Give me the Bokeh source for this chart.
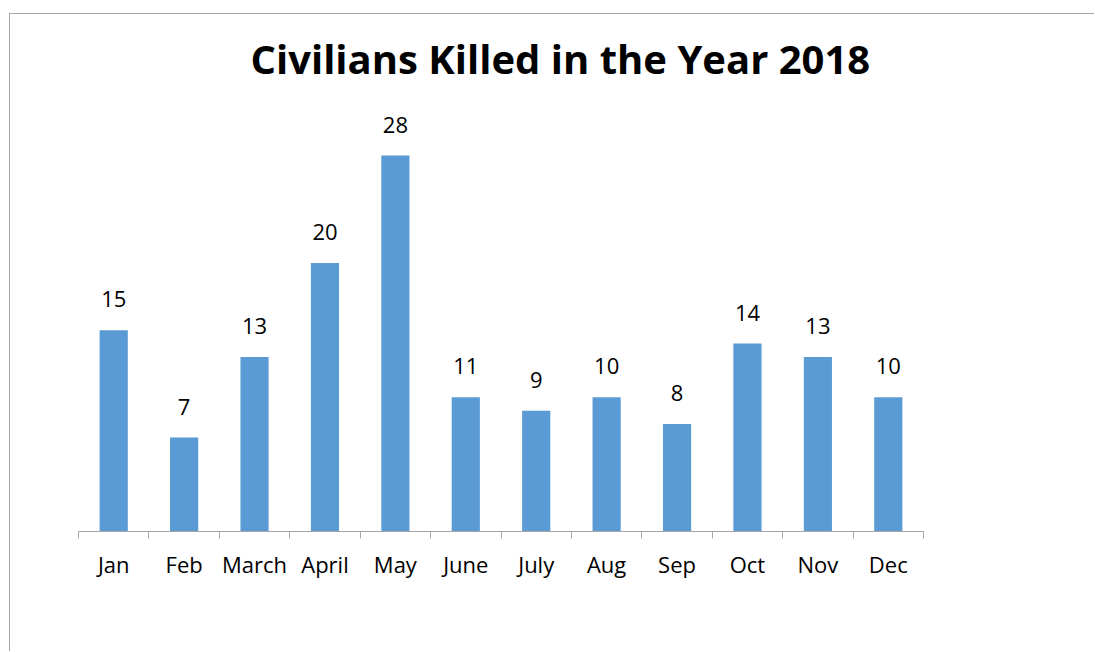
from bokeh.plotting import figure
from bokeh.models import Range1d, FixedTicker, ColumnDataSource, Title
from bokeh.core.properties import value
from bokeh.embed import file_html
from bokeh.resources import INLINE

months = ["Jan", "Feb", "March", "April", "May", "June", "July", "Aug", "Sep", "Oct", "Nov", "Dec"]
# bar heights as drawn in the picture (June's bar is drawn at the height of 10)
bar_heights = [15, 7, 13, 20, 28, 10, 9, 10, 8, 14, 13, 10]
# data labels as printed in the picture
bar_labels = ["15", "7", "13", "20", "28", "11", "9", "10", "8", "14", "13", "10"]
title_text = "Civilians Killed in the Year 2018"

FONT = "Open Sans"
xs = [i + 0.5 for i in range(len(months))]
src = ColumnDataSource(dict(x=xs, y=bar_heights, lbl=bar_labels))

p = figure(width=1085, height=638, output_backend="svg", toolbar_location=None,
           x_range=Range1d(0, len(months)), y_range=Range1d(0, 33),
           min_border_left=68, min_border_right=172, min_border_top=74, min_border_bottom=121)
p.outline_line_color = None
p.xgrid.visible = False
p.ygrid.visible = False
p.yaxis.visible = False

p.vbar(x="x", top="y", width=0.4, bottom=0, source=src, fill_color="#5b9bd5", line_color=None)
p.text(x="x", y="y", text="lbl", source=src, text_align="center", text_baseline="alphabetic",
       y_offset=-31, text_font=value(FONT), text_font_size="22px", text_color="#000000")

ax = p.xaxis[0]
ax.ticker = FixedTicker(ticks=xs, minor_ticks=list(range(len(months) + 1)))
ax.major_label_overrides = {x: m for x, m in zip(xs, months)}
ax.major_tick_line_color = None
ax.minor_tick_line_color = "#a6a6a6"
ax.minor_tick_in = 0
ax.minor_tick_out = 7
ax.axis_line_color = "#a6a6a6"
ax.major_label_text_font = FONT
ax.major_label_text_font_size = "22px"
ax.major_label_text_color = "#000000"
ax.major_label_standoff = 10

title = Title(text=title_text, align="left", offset=172, standoff=5, text_font=FONT,
              text_font_size="40px", text_font_style="bold", text_color="#000000")
p.add_layout(title, "above")

p.styles = {"border-left": "1px solid #a6a6a6", "border-top": "1px solid #a6a6a6",
            "margin-left": "9px", "margin-top": "13px"}

open("out.html", "w").write(file_html(p, INLINE))
